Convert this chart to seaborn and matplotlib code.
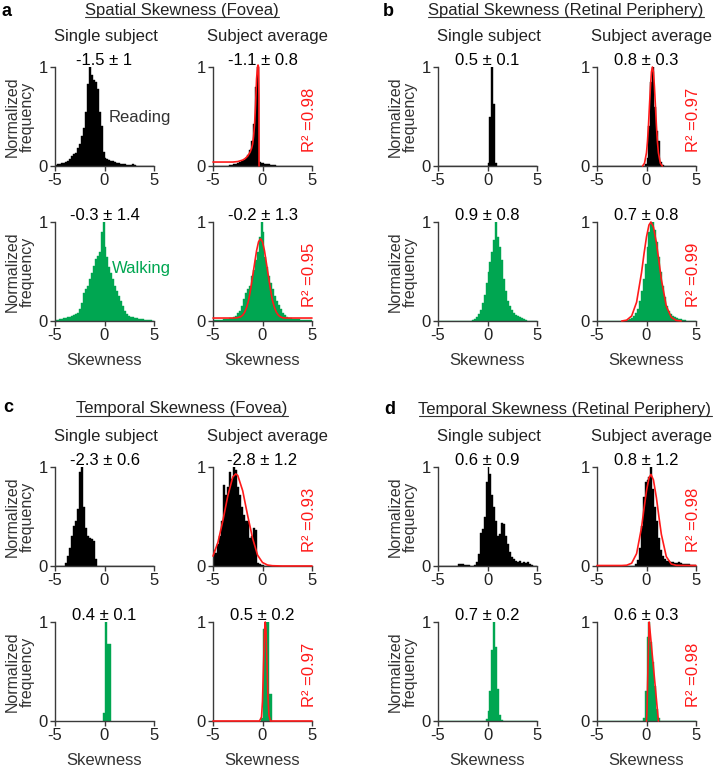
import numpy as np
import pandas as pd
import matplotlib
matplotlib.use("Agg")
import matplotlib.pyplot as plt
import seaborn as sns
from matplotlib.lines import Line2D

sns.set_style("ticks")
plt.rcParams["font.family"] = ["Liberation Sans", "DejaVu Sans"]
plt.rcParams["axes.unicode_minus"] = False

BLACK = "#000000"
GREEN = "#00A651"
RED = "#FF1A1A"
AXC = "#3a3a3a"

# ---------------- data ----------------
BIN_EDGES = [round(-5 + 0.2 * i, 2) for i in range(51)]   # 0.2-wide bins

# a: Spatial skewness (fovea)
sf_read_single = [0.01, 0.02, 0.02, 0.03, 0.03, 0.04, 0.05, 0.07, 0.10, 0.12,
                  0.13, 0.18, 0.22, 0.30, 0.38, 0.55, 0.83, 1.00, 0.92, 0.87,
                  0.85, 0.78, 0.55, 0.40, 0.14, 0.08, 0.07, 0.06, 0.05, 0.05,
                  0.04, 0.03, 0.03, 0.02, 0.02, 0.02, 0.01, 0.01, 0.01, 0.02,
                  0.01, 0, 0, 0, 0, 0, 0, 0, 0, 0]
sf_read_avg = [0, 0, 0, 0, 0, 0, 0, 0, 0.01, 0.01,
               0.02, 0.02, 0.03, 0.04, 0.05, 0.06, 0.08, 0.11, 0.16, 0.25,
               0.42, 0.80, 1.00, 0.04, 0.03, 0.03, 0.02, 0.02, 0.02, 0.01,
               0.01, 0.01, 0, 0, 0, 0, 0, 0, 0, 0,
               0, 0, 0, 0, 0, 0, 0, 0, 0, 0]
sf_walk_single = [0.01, 0.01, 0.02, 0.02, 0.03, 0.03, 0.04, 0.04, 0.05, 0.06,
                  0.07, 0.08, 0.12, 0.18, 0.28, 0.32, 0.35, 0.42, 0.48, 0.56,
                  0.63, 0.66, 0.70, 0.90, 1.00, 0.75, 0.65, 0.55, 0.48, 0.42,
                  0.35, 0.30, 0.25, 0.20, 0.15, 0.10, 0.07, 0.05, 0.04, 0.04,
                  0.03, 0.03, 0.02, 0.02, 0.02, 0.01, 0.01, 0.01, 0.01, 0.0]
sf_walk_avg = [0.01, 0.01, 0.01, 0.01, 0.01, 0.02, 0.02, 0.02, 0.03, 0.03,
               0.04, 0.05, 0.08, 0.10, 0.15, 0.22, 0.28, 0.32, 0.35, 0.45,
               0.52, 0.62, 0.70, 0.85, 1.00, 0.90, 0.65, 0.55, 0.45, 0.38,
               0.32, 0.25, 0.20, 0.16, 0.12, 0.08, 0.06, 0.04, 0.03, 0.03,
               0.02, 0.02, 0.02, 0.02, 0.01, 0.01, 0.01, 0.01, 0.01, 0.01]
sf_read_fit_x = [-5, -4, -3, -2.5, -2, -1.75, -1.5, -1.25, -1.1, -1.0,
                 -0.9, -0.8, -0.7, -0.6, -0.5, -0.45, -0.4, -0.36, -0.35]
sf_read_fit_y = [0.04, 0.04, 0.04, 0.045, 0.06, 0.075, 0.10, 0.14, 0.18, 0.22,
                 0.30, 0.42, 0.62, 0.88, 1.00, 1.02, 1.00, 0.70, 0.0]
sf_walk_fit_x = [-5, -3, -2.5, -2.2, -2, -1.8, -1.6, -1.4, -1.2, -1.0, -0.8, -0.6, -0.4, -0.2,
                 0, 0.2, 0.4, 0.6, 0.8, 1.0, 1.2, 1.4, 1.6, 1.8, 2.0, 2.2, 2.5, 3, 5]
sf_walk_fit_y = [0.03, 0.03, 0.034, 0.043, 0.059, 0.089, 0.138, 0.21, 0.32, 0.45, 0.58, 0.71, 0.80, 0.83,
                 0.80, 0.71, 0.58, 0.45, 0.32, 0.21, 0.138, 0.089, 0.059, 0.043, 0.034, 0.031, 0.03, 0.03, 0.03]

# b: Spatial skewness (retinal periphery)
sp_read_single = [0, 0, 0, 0, 0, 0, 0, 0, 0, 0,
                  0, 0, 0, 0, 0, 0, 0, 0, 0, 0,
                  0, 0, 0, 0, 0, 0.03, 0.50, 1.00, 0.63, 0.03,
                  0, 0, 0, 0, 0, 0, 0, 0, 0, 0,
                  0, 0, 0, 0, 0, 0, 0, 0, 0, 0]
sp_read_avg = [0, 0, 0, 0, 0, 0, 0, 0, 0, 0,
               0, 0, 0, 0, 0, 0, 0, 0, 0, 0,
               0, 0, 0, 0, 0.02, 0.08, 0.40, 0.85, 1.00, 0.60,
               0.35, 0.25, 0.04, 0.01, 0, 0, 0, 0, 0, 0,
               0, 0, 0, 0, 0, 0, 0, 0, 0, 0]
sp_walk_single = [0, 0, 0, 0, 0, 0, 0, 0, 0, 0,
                  0, 0, 0, 0, 0, 0, 0, 0.01, 0.02, 0.04,
                  0.07, 0.11, 0.18, 0.26, 0.38, 0.50, 0.60, 0.70, 0.82, 1.00,
                  0.85, 0.75, 0.62, 0.42, 0.30, 0.20, 0.15, 0.11, 0.08, 0.06,
                  0.05, 0.04, 0.03, 0.02, 0.01, 0, 0, 0, 0, 0]
sp_walk_avg = [0, 0, 0, 0, 0, 0, 0, 0, 0, 0,
               0, 0, 0, 0, 0, 0.01, 0.02, 0.03, 0.05, 0.08,
               0.12, 0.20, 0.30, 0.42, 0.58, 0.75, 0.90, 0.98, 1.00, 0.92,
               0.80, 0.65, 0.50, 0.35, 0.24, 0.15, 0.10, 0.07, 0.05, 0.04,
               0.03, 0.02, 0.02, 0.01, 0.01, 0, 0, 0, 0, 0]
sp_read_fit_x = [-0.4, -0.2, 0, 0.1, 0.2, 0.3, 0.4, 0.5, 0.6, 0.7, 0.8, 0.9, 1.0, 1.1, 1.2, 1.4, 1.6]
sp_read_fit_y = [0.0, 0.028, 0.135, 0.25, 0.41, 0.61, 0.80, 0.95, 1.0, 0.95, 0.80, 0.61, 0.41, 0.25, 0.135, 0.028, 0.0]
sp_walk_fit_x = [-2.5, -2, -1.5, -1, -0.5, -0.25, 0, 0.25, 0.45, 0.7, 1.0, 1.25, 1.5, 2.0, 2.5, 3.0, 3.5]
sp_walk_fit_y = [0.0, 0.009, 0.051, 0.19, 0.49, 0.68, 0.85, 0.97, 1.0, 0.95, 0.79, 0.61, 0.42, 0.15, 0.038, 0.006, 0.0]

# c: Temporal skewness (fovea)
tf_read_single = [0, 0, 0, 0, 0, 0.03, 0.10, 0.18, 0.30, 0.40,
                  0.45, 0.58, 0.95, 1.00, 0.60, 0.38, 0.30, 0.28, 0.27, 0.25,
                  0.07, 0, 0, 0, 0, 0, 0, 0, 0, 0,
                  0, 0, 0, 0, 0, 0, 0, 0, 0, 0,
                  0, 0, 0, 0, 0, 0, 0, 0, 0, 0]
tf_read_avg = [0.16, 0.13, 0.22, 0.30, 0.45, 0.82, 0.72, 0.80, 0.95, 0.88,
               1.00, 0.97, 0.80, 0.72, 0.60, 0.52, 0.45, 0.45, 0.28, 0.30,
               0.38, 0.36, 0.03, 0.02, 0.01, 0.01, 0, 0, 0, 0,
               0, 0, 0, 0, 0, 0, 0, 0, 0, 0,
               0, 0, 0, 0, 0, 0, 0, 0, 0, 0]
tf_walk_single_edges = [-0.15, 0.05, 0.30, 0.65]
tf_walk_single = [0.08, 1.00, 0.78]
tf_walk_avg_edges = [-0.2, 0.1, 0.4, 0.7, 1.0]
tf_walk_avg = [0.03, 0.93, 1.00, 0.27]
tf_read_fit_x = [-5, -4.5, -4, -3.5, -3, -2.7, -2.5, -2, -1.5, -1, -0.5, 0, 0.5, 1, 2, 5]
tf_read_fit_y = [0.10, 0.24, 0.46, 0.71, 0.90, 0.93, 0.915, 0.76, 0.51, 0.28, 0.11, 0.035, 0.01, 0.003, 0.0, 0.0]
tf_walk_fit_x = [-5, -0.3, -0.1, 0.0, 0.1, 0.2, 0.28, 0.35, 0.45, 0.55, 0.65, 0.8, 5]
tf_walk_fit_y = [0, 0, 0.04, 0.20, 0.55, 0.90, 1.00, 0.93, 0.60, 0.25, 0.06, 0.0, 0]

# d: Temporal skewness (retinal periphery)
tp_read_single = [0, 0, 0, 0, 0, 0, 0, 0, 0, 0,
                  0.02, 0.02, 0.02, 0.01, 0.01, 0.01, 0, 0, 0.01, 0.04,
                  0.12, 0.33, 0.37, 0.50, 0.85, 1.00, 0.93, 0.72, 0.60, 0.45,
                  0.30, 0.32, 0.43, 0.42, 0.30, 0.22, 0.14, 0.09, 0.07, 0.05,
                  0.04, 0.05, 0.03, 0.04, 0.03, 0.04, 0.02, 0.01, 0, 0]
tp_read_avg = [0, 0, 0, 0, 0, 0, 0, 0, 0, 0,
               0, 0, 0, 0, 0, 0, 0, 0, 0, 0.02,
               0.06, 0.18, 0.40, 0.70, 0.85, 0.87, 0.90, 1.00, 0.78, 0.60,
               0.45, 0.28, 0.16, 0.10, 0.07, 0.05, 0.05, 0.04, 0.04, 0.03,
               0.03, 0.04, 0.03, 0.02, 0.02, 0.02, 0.02, 0.01, 0.01, 0.01]
tp_walk_single = [0, 0, 0, 0, 0, 0, 0, 0, 0, 0,
                  0, 0, 0, 0, 0, 0, 0, 0, 0, 0,
                  0, 0, 0, 0, 0.02, 0.10, 0.30, 0.72, 1.00, 0.75,
                  0.32, 0.06, 0.01, 0, 0, 0, 0, 0, 0, 0,
                  0, 0, 0, 0, 0, 0, 0, 0, 0, 0]
tp_walk_avg = [0, 0, 0, 0, 0, 0, 0, 0, 0, 0,
               0, 0, 0, 0, 0, 0, 0, 0, 0, 0,
               0, 0, 0, 0.03, 0.30, 0.85, 1.00, 0.80, 0.60, 0.35,
               0.12, 0.03, 0, 0, 0, 0, 0, 0, 0, 0,
               0, 0, 0, 0, 0, 0, 0, 0, 0, 0]
tp_read_fit_x = [-5, -2.5, -2, -1.5, -1, -0.5, -0.25, 0, 0.25, 0.45, 0.7, 1.0, 1.25, 1.5, 2.0, 2.5, 3.0, 5]
tp_read_fit_y = [0.005, 0.005, 0.008, 0.028, 0.125, 0.39, 0.58, 0.76, 0.89, 0.925, 0.87, 0.69, 0.50, 0.32, 0.095, 0.02, 0.007, 0.005]
tp_walk_fit_x = [0.0, 0.05, 0.15, 0.27, 0.35, 0.6, 0.9, 1.2]
tp_walk_fit_y = [0, 0.10, 0.55, 1.00, 0.92, 0.65, 0.33, 0.0]

value_labels = {
    "a": ["-1.5 \u00b1 1", "-1.1 \u00b1 0.8", "-0.3 \u00b1 1.4", "-0.2 \u00b1 1.3"],
    "b": ["0.5 \u00b1 0.1", "0.8 \u00b1 0.3", "0.9 \u00b1 0.8", "0.7 \u00b1 0.8"],
    "c": ["-2.3 \u00b1 0.6", "-2.8 \u00b1 1.2", "0.4 \u00b1 0.1", "0.5 \u00b1 0.2"],
    "d": ["0.6 \u00b1 0.9", "0.8 \u00b1 1.2", "0.7 \u00b1 0.2", "0.6 \u00b1 0.3"],
}
r2_labels = {"a": ["0.98", "0.95"], "b": ["0.97", "0.99"],
             "c": ["0.93", "0.97"], "d": ["0.98", "0.98"]}
titles = {"a": "Spatial Skewness (Fovea)",
          "b": "Spatial Skewness (Retinal Periphery)",
          "c": "Temporal Skewness (Fovea)",
          "d": "Temporal Skewness (Retinal Periphery)"}

hist_data = {
    "a": [(BIN_EDGES, sf_read_single), (BIN_EDGES, sf_read_avg),
          (BIN_EDGES, sf_walk_single), (BIN_EDGES, sf_walk_avg)],
    "b": [(BIN_EDGES, sp_read_single), (BIN_EDGES, sp_read_avg),
          (BIN_EDGES, sp_walk_single), (BIN_EDGES, sp_walk_avg)],
    "c": [(BIN_EDGES, tf_read_single), (BIN_EDGES, tf_read_avg),
          (tf_walk_single_edges, tf_walk_single), (tf_walk_avg_edges, tf_walk_avg)],
    "d": [(BIN_EDGES, tp_read_single), (BIN_EDGES, tp_read_avg),
          (BIN_EDGES, tp_walk_single), (BIN_EDGES, tp_walk_avg)],
}
fit_data = {
    "a": [(sf_read_fit_x, sf_read_fit_y), (sf_walk_fit_x, sf_walk_fit_y)],
    "b": [(sp_read_fit_x, sp_read_fit_y), (sp_walk_fit_x, sp_walk_fit_y)],
    "c": [(tf_read_fit_x, tf_read_fit_y), (tf_walk_fit_x, tf_walk_fit_y)],
    "d": [(tp_read_fit_x, tp_read_fit_y), (tp_walk_fit_x, tp_walk_fit_y)],
}

# ---------------- layout ----------------
W, H = 713, 770
fig = plt.figure(figsize=(W / 100, H / 100), dpi=100)

col_px = {"a": (55, 213), "b": (438, 597), "c": (55, 213), "d": (438, 597)}
row_px = {"a": (67, 222), "b": (67, 222), "c": (467, 622), "d": (467, 622)}
AXW, AXH = 99, 99
FS = 12


def add_ax(left, top):
    return fig.add_axes([left / W, 1 - (top + AXH) / H, AXW / W, AXH / H])


def style(ax, show_ylabel, show_xlabel):
    ax.set_xlim(-5, 5)
    ax.set_ylim(0, 1)
    ax.set_xticks([-5, 0, 5])
    ax.set_yticks([0, 1])
    ax.set_xticklabels(["-5", "0", "5"])
    ax.set_yticklabels(["0", "1"])
    sns.despine(ax=ax)
    for s in ("left", "bottom"):
        ax.spines[s].set_color(AXC)
        ax.spines[s].set_linewidth(1.0)
    ax.tick_params(direction="out", length=3.5, width=1, colors=AXC,
                   labelsize=FS, pad=1.5, labelcolor="#222222")
    ax.set_ylabel("Normalized\nfrequency" if show_ylabel else "",
                  fontsize=11.5, color="#333333", linespacing=0.95, labelpad=3)
    ax.set_xlabel("Skewness" if show_xlabel else "", fontsize=FS,
                  color="#333333", labelpad=7)


for panel in ["a", "b", "c", "d"]:
    cols = col_px[panel]
    rows = row_px[panel]
    k = 0
    for r, (top, color) in enumerate(zip(rows, [BLACK, GREEN])):
        for c, left in enumerate(cols):
            ax = add_ax(left, top)
            edges, heights = hist_data[panel][k]
            edges = [float(e) for e in edges]
            centers = [(edges[i] + edges[i + 1]) / 2 for i in range(len(edges) - 1)]
            df = pd.DataFrame({"center": centers,
                               "height": [float(h) for h in heights]})
            sns.histplot(data=df, x="center", weights="height", bins=edges,
                         ax=ax, color=color, alpha=1.0, edgecolor=color,
                         linewidth=0.3, stat="count", element="bars")
            if c == 1:
                fx, fy = fit_data[panel][r]
                fdf = pd.DataFrame({"x": fx, "y": fy})
                sns.lineplot(data=fdf, x="x", y="y", ax=ax, color=RED,
                             linewidth=1.2, sort=False, estimator=None)
                for ln in ax.lines:
                    ln.set_clip_on(False)
                    ln.set_zorder(3)
                ax.text(0.975, 0.47, "R\u00b2 =" + r2_labels[panel][r],
                        rotation=90, color=RED, fontsize=FS, ha="center",
                        va="center", transform=ax.transAxes)
            style(ax, show_ylabel=(c == 0), show_xlabel=(r == 1))
            ax.text(0.5, 1.065, value_labels[panel][k], transform=ax.transAxes,
                    ha="center", va="center", fontsize=FS, color=BLACK)
            if panel == "a" and k == 0:
                ax.text(0.86, 0.49, "Reading", transform=ax.transAxes,
                        ha="center", va="center", fontsize=FS, color="#333333")
            if panel == "a" and k == 2:
                ax.text(0.87, 0.53, "Walking", transform=ax.transAxes,
                        ha="center", va="center", fontsize=FS, color=GREEN)
            k += 1

# subtitles, titles, letters
sub_y = {"a": 37, "b": 37, "c": 437, "d": 437}
for panel in ["a", "b", "c", "d"]:
    l0, l1 = col_px[panel]
    y = sub_y[panel]
    fig.text((l0 + AXW / 2 + 1) / W, 1 - y / H, "Single subject", ha="center",
             va="center", fontsize=FS, color="#222222")
    fig.text((l1 + AXW / 2 + 5) / W, 1 - y / H, "Subject average", ha="center",
             va="center", fontsize=FS, color="#222222")

title_pos = {"a": (182, 10), "b": (566, 10), "c": (182, 409), "d": (565, 410)}
letter_pos = {"a": (7, 11), "b": (388, 11), "c": (8, 408), "d": (390, 410)}
title_texts = []
for panel in ["a", "b", "c", "d"]:
    x, y = title_pos[panel]
    t = fig.text(x / W, 1 - y / H, titles[panel], ha="center", va="center",
                 fontsize=FS, color="#222222")
    title_texts.append(t)
    lx, ly = letter_pos[panel]
    fig.text(lx / W, 1 - ly / H, panel, ha="center", va="center",
             fontsize=13, fontweight="bold", color=BLACK)

fig.canvas.draw()
renderer = fig.canvas.get_renderer()
for t in title_texts:
    bb = t.get_window_extent(renderer)
    yline = (bb.y0 + 1.0) / H
    fig.add_artist(Line2D([bb.x0 / W, bb.x1 / W], [yline, yline],
                          color="#333333", linewidth=0.8,
                          transform=fig.transFigure))

fig.savefig("out.png", dpi=100)
